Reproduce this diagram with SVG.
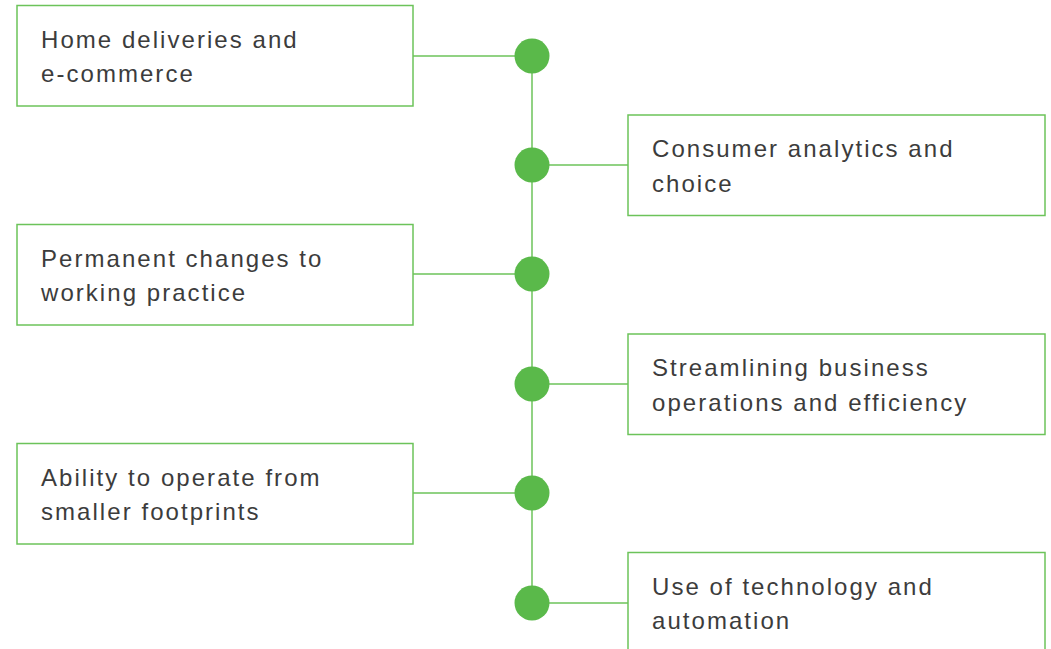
<svg xmlns="http://www.w3.org/2000/svg" width="1051" height="649" viewBox="0 0 1051 649">
<style>
.box{fill:#fff;stroke:#6cc35a;stroke-width:1.5}
.ln{stroke:#6cc35a;stroke-width:1.5;fill:none}
.dot{fill:#5ab94a}
.t{font-family:"Liberation Sans",Arial,sans-serif;font-size:24px;letter-spacing:2.05px;fill:#3c3c3c}
</style>
<rect width="1051" height="649" fill="#fff"/>
<g id="connectors">
<line class="ln" x1="532" y1="56" x2="532" y2="603"/>
<line class="ln" x1="413" y1="56" x2="532" y2="56"/>
<line class="ln" x1="532" y1="165" x2="628" y2="165"/>
<line class="ln" x1="413" y1="274" x2="532" y2="274"/>
<line class="ln" x1="532" y1="384" x2="628" y2="384"/>
<line class="ln" x1="413" y1="493" x2="532" y2="493"/>
<line class="ln" x1="532" y1="603" x2="628" y2="603"/>
</g>
<g id="dots">
<circle class="dot" cx="532" cy="56" r="17.5"/>
<circle class="dot" cx="532" cy="165" r="17.5"/>
<circle class="dot" cx="532" cy="274" r="17.5"/>
<circle class="dot" cx="532" cy="384" r="17.5"/>
<circle class="dot" cx="532" cy="493" r="17.5"/>
<circle class="dot" cx="532" cy="603" r="17.5"/>
</g>
<g id="n1"><rect class="box" x="17" y="5.5" width="396" height="100.5"/><text class="t" x="41" y="47.5">Home deliveries and</text><text class="t" x="41" y="82">e-commerce</text></g>
<g id="n2"><rect class="box" x="628" y="115" width="417" height="100.5"/><text class="t" x="652" y="157">Consumer analytics and</text><text class="t" x="652" y="191.5">choice</text></g>
<g id="n3"><rect class="box" x="17" y="224.5" width="396" height="100.5"/><text class="t" x="41" y="266.5">Permanent changes to</text><text class="t" x="41" y="301">working practice</text></g>
<g id="n4"><rect class="box" x="628" y="334" width="417" height="100.5"/><text class="t" x="652" y="376">Streamlining business</text><text class="t" x="652" y="410.5">operations and efficiency</text></g>
<g id="n5"><rect class="box" x="17" y="443.5" width="396" height="100.5"/><text class="t" x="41" y="485.5">Ability to operate from</text><text class="t" x="41" y="520">smaller footprints</text></g>
<g id="n6"><rect class="box" x="628" y="552.5" width="417" height="120"/><text class="t" x="652" y="594.5">Use of technology and</text><text class="t" x="652" y="629">automation</text></g>
</svg>
